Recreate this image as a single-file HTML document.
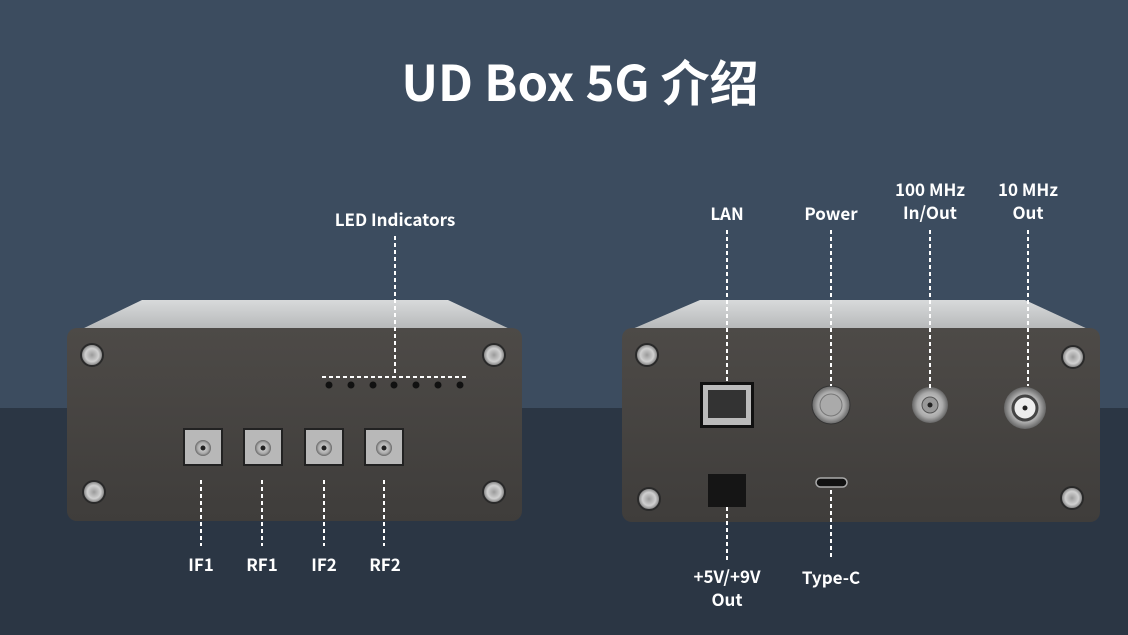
<!DOCTYPE html>
<html><head><meta charset="utf-8"><style>
html,body{margin:0;padding:0}
body{width:1128px;height:635px;overflow:hidden;position:relative;background:#3c4c5f;font-family:"Noto Sans CJK SC","Liberation Sans",sans-serif}
.bot{position:absolute;left:0;top:408px;width:1128px;height:227px;background:#2b3644}
.t{position:absolute;color:#fff;font-weight:700;white-space:nowrap;text-align:center;transform:translateX(-50%)}
svg{position:absolute;left:0;top:0}
</style></head><body>
<div class="bot"></div>
<div class="t" style="left:580px;top:49px;font-size:49px;line-height:64px">UD Box 5G 介绍</div>
<svg width="1128" height="635">
<defs>
<linearGradient id="lid" x1="0" y1="0" x2="0" y2="1"><stop offset="0" stop-color="#d8dadb"/><stop offset="1" stop-color="#b5b7b8"/></linearGradient>
<linearGradient id="pan" x1="0" y1="0" x2="0" y2="1"><stop offset="0" stop-color="#4d4a47"/><stop offset="1" stop-color="#3f3d3b"/></linearGradient>
<radialGradient id="scr"><stop offset="0" stop-color="#9a9a9a"/><stop offset=".6" stop-color="#d0d0d0"/><stop offset="1" stop-color="#777"/></radialGradient>
<radialGradient id="met"><stop offset="0" stop-color="#ddd"/><stop offset=".7" stop-color="#aaa"/><stop offset="1" stop-color="#666"/></radialGradient>
</defs>
<path d="M142 300 L448 300 L512 330 L80 330 Z" fill="url(#lid)"/>
<rect x="67" y="328" width="455" height="193" rx="10" fill="url(#pan)"/>
<g fill="url(#scr)" stroke="#2a2a2a" stroke-width="2"><circle cx="92" cy="355" r="11"/><circle cx="494" cy="355" r="11"/><circle cx="94" cy="492" r="11"/><circle cx="494" cy="492" r="11"/></g>
<g fill="#111"><circle cx="329" cy="385" r="3.5"/><circle cx="351" cy="385" r="3.5"/><circle cx="373" cy="385" r="3.5"/><circle cx="394" cy="385" r="3.5"/><circle cx="416" cy="385" r="3.5"/><circle cx="438" cy="385" r="3.5"/><circle cx="460" cy="385" r="3.5"/></g>
<g>
<rect x="183" y="428" width="40" height="38" fill="#222"/><rect x="185" y="430" width="36" height="34" fill="#b8b8b8"/><circle cx="203" cy="448" r="8" fill="url(#met)"/><circle cx="203" cy="448" r="2.5" fill="#222"/>
<rect x="243" y="428" width="40" height="38" fill="#222"/><rect x="245" y="430" width="36" height="34" fill="#b8b8b8"/><circle cx="263" cy="448" r="8" fill="url(#met)"/><circle cx="263" cy="448" r="2.5" fill="#222"/>
<rect x="304" y="428" width="40" height="38" fill="#222"/><rect x="306" y="430" width="36" height="34" fill="#b8b8b8"/><circle cx="324" cy="448" r="8" fill="url(#met)"/><circle cx="324" cy="448" r="2.5" fill="#222"/>
<rect x="364" y="428" width="40" height="38" fill="#222"/><rect x="366" y="430" width="36" height="34" fill="#b8b8b8"/><circle cx="384" cy="448" r="8" fill="url(#met)"/><circle cx="384" cy="448" r="2.5" fill="#222"/>
</g>
<path d="M700 300 L1025 300 L1090 330 L630 330 Z" fill="url(#lid)"/>
<rect x="622" y="328" width="478" height="194" rx="10" fill="url(#pan)"/>
<g fill="url(#scr)" stroke="#2a2a2a" stroke-width="2"><circle cx="647" cy="355" r="11"/><circle cx="1073" cy="357" r="11"/><circle cx="649" cy="499" r="11"/><circle cx="1072" cy="498" r="11"/></g>
<rect x="700" y="382" width="54" height="46" fill="#111"/><rect x="703" y="385" width="48" height="40" fill="#bbb"/><rect x="708" y="390" width="38" height="28" fill="#333"/>
<circle cx="831" cy="405" r="19" fill="url(#met)" stroke="#333" stroke-width="1"/><circle cx="831" cy="405" r="11" fill="#aaa" stroke="#777"/>
<circle cx="930" cy="405" r="18" fill="url(#met)"/><circle cx="930" cy="405" r="8" fill="#999" stroke="#555"/><circle cx="930" cy="405" r="2.5" fill="#222"/>
<circle cx="1025" cy="408" r="21" fill="url(#met)"/><circle cx="1025" cy="408" r="12" fill="#eee" stroke="#444" stroke-width="3"/><circle cx="1025" cy="408" r="2.5" fill="#222"/>
<rect x="708" y="474" width="38" height="33" fill="#151515"/>
<rect x="816" y="478" width="31" height="9" rx="4.5" fill="#111" stroke="#aaa" stroke-width="1.5"/>
<g stroke="#fff" stroke-width="2" stroke-dasharray="4 3" fill="none">
<path d="M395 236 V377 M322 377 H467"/>
<path d="M201 480 V546 M262 480 V546 M324 480 V546 M384 480 V546"/>
<path d="M727 230 V382 M831 230 V386 M930 230 V388 M1028 230 V386"/>
<path d="M727 507 V560 M831 490 V560"/>
</g>
</svg>
<div class="t" style="left:395px;top:206px;font-size:17px">LED Indicators</div>
<div class="t" style="left:201px;top:551px;font-size:17px">IF1</div>
<div class="t" style="left:262px;top:551px;font-size:17px">RF1</div>
<div class="t" style="left:324px;top:551px;font-size:17px">IF2</div>
<div class="t" style="left:385px;top:551px;font-size:17px">RF2</div>
<div class="t" style="left:727px;top:200px;font-size:17px">LAN</div>
<div class="t" style="left:831px;top:200px;font-size:17px">Power</div>
<div class="t" style="left:930px;top:177px;font-size:17px;line-height:23px">100 MHz<br>In/Out</div>
<div class="t" style="left:1028px;top:177px;font-size:17px;line-height:23px">10 MHz<br>Out</div>
<div class="t" style="left:727px;top:564px;font-size:17px;line-height:23px">+5V/+9V<br>Out</div>
<div class="t" style="left:831px;top:564px;font-size:17px">Type-C</div>
</body></html>
